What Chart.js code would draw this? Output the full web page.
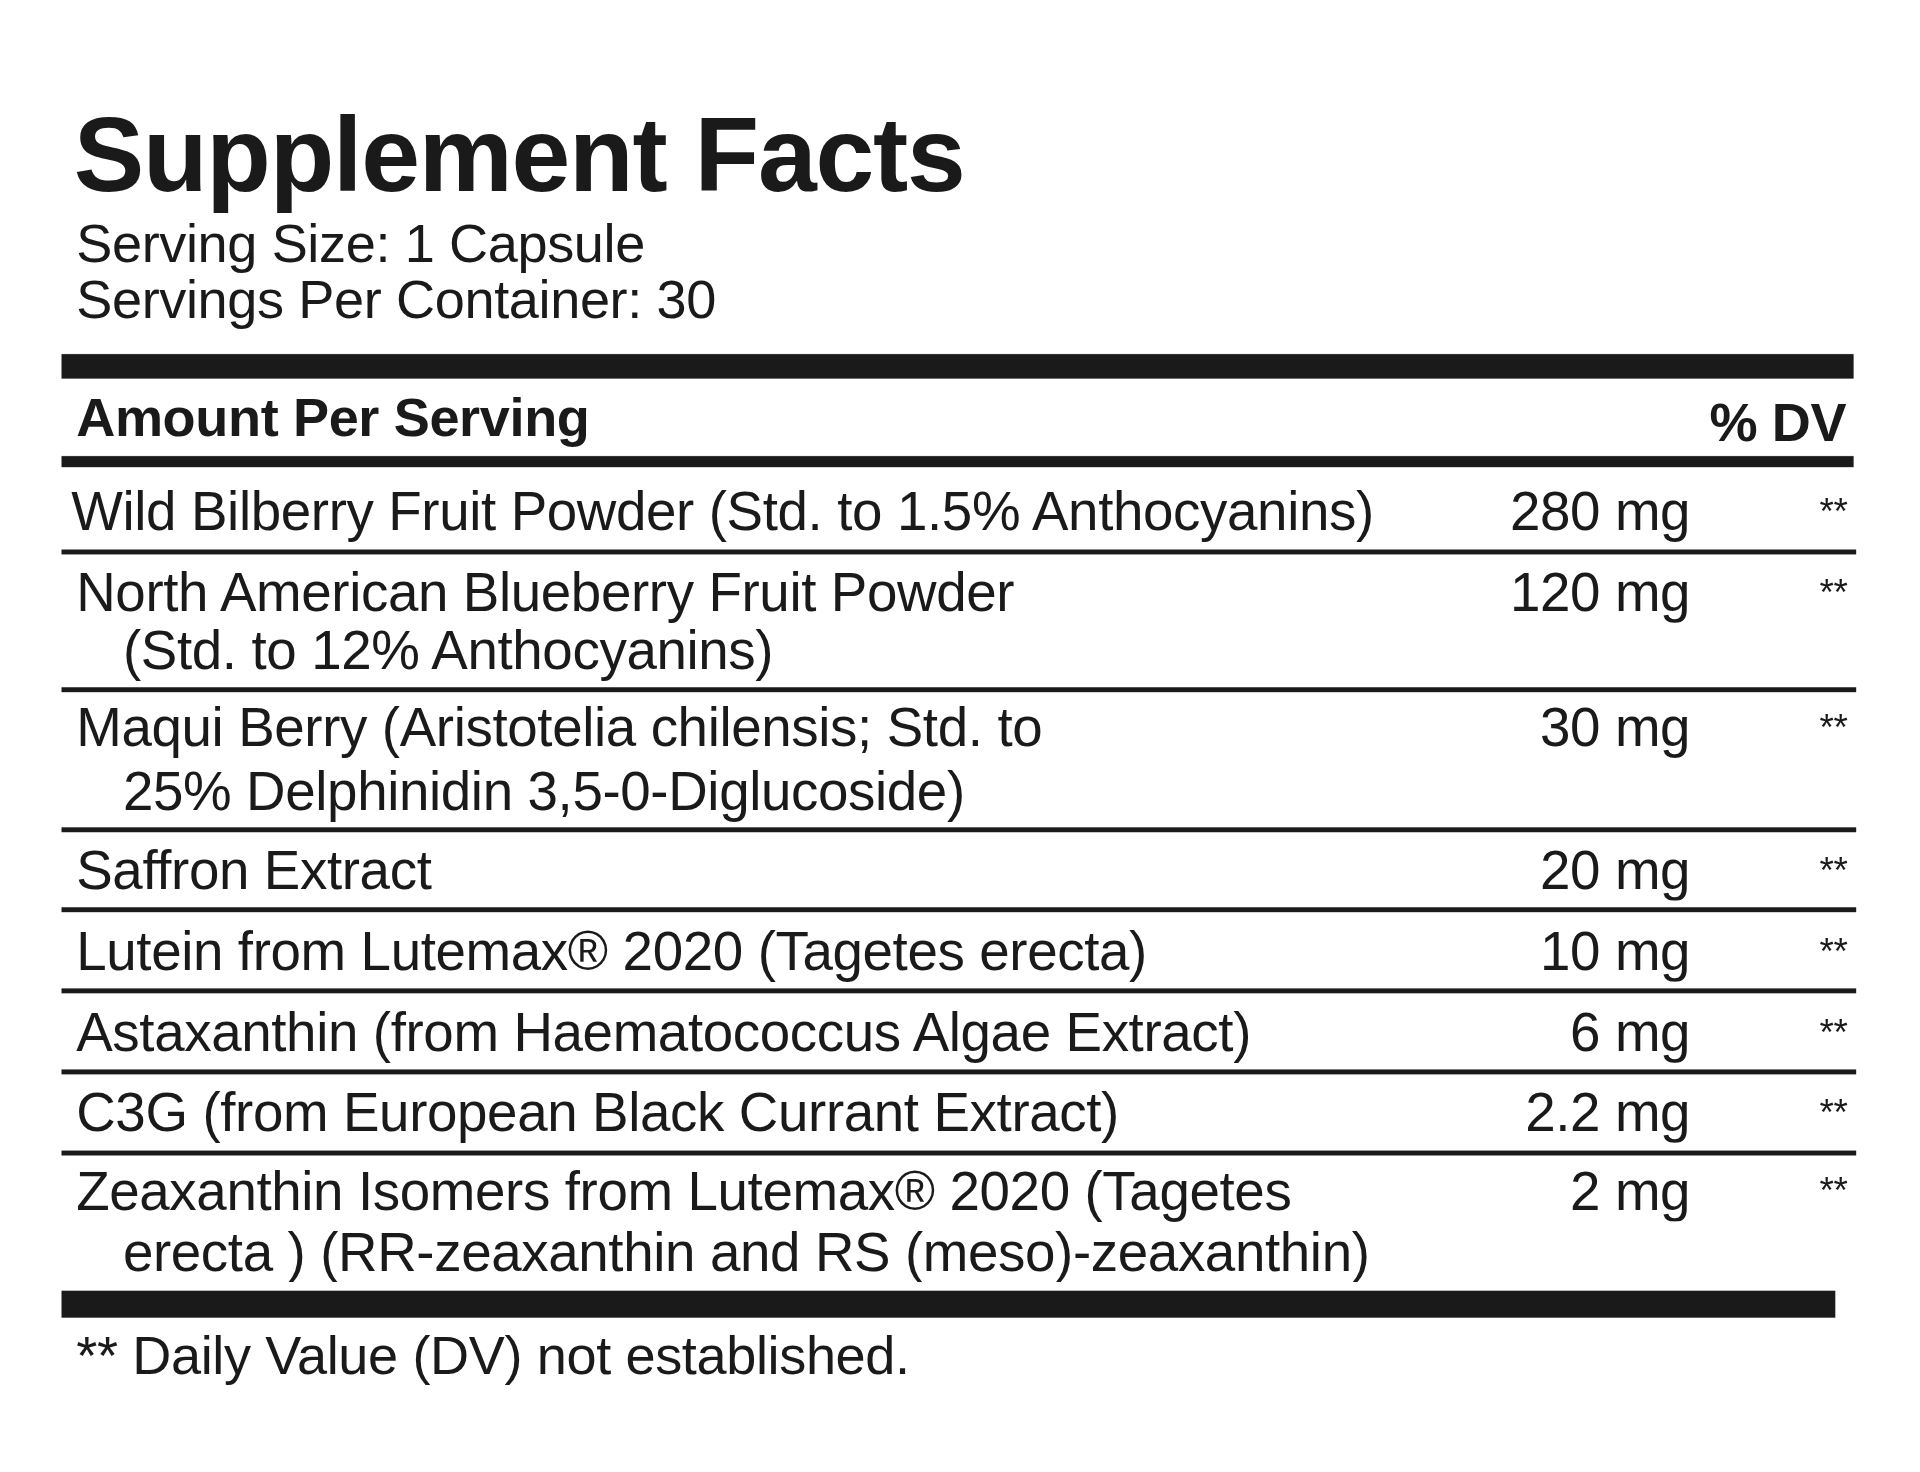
<!DOCTYPE html>
<html><head><meta charset="utf-8">
<script src="https://cdn.jsdelivr.net/npm/chart.js@4"></script>
<style>
html,body{margin:0;padding:0;background:#fff;width:1920px;height:1472px;overflow:hidden}
#wrap{position:absolute;left:0;top:0;width:1562px;height:1198px;transform:scale(1.2292);transform-origin:0 0;font-family:"Liberation Sans",Arial,sans-serif;color:#1a1a1a}
#cv{position:absolute;left:0;top:0}
.t{position:absolute;line-height:1;white-space:nowrap;letter-spacing:-0.3px}
</style></head><body>
<div id="wrap"><canvas id="cv" width="1562" height="1198"></canvas></div>
<script>
const title="Supplement Facts";
const servingInfo=["Serving Size: 1 Capsule","Servings Per Container: 30"];
const headers=["Amount Per Serving","% DV"];
const ingredients=[
 ["Wild Bilberry Fruit Powder (Std. to 1.5% Anthocyanins)"],
 ["North American Blueberry Fruit Powder","(Std. to 12% Anthocyanins)"],
 ["Maqui Berry (Aristotelia chilensis; Std. to","25% Delphinidin 3,5-0-Diglucoside)"],
 ["Saffron Extract"],
 ["Lutein from Lutemax® 2020 (Tagetes erecta)"],
 ["Astaxanthin (from Haematococcus Algae Extract)"],
 ["C3G (from European Black Currant Extract)"],
 ["Zeaxanthin Isomers from Lutemax® 2020 (Tagetes","erecta ) (RR-zeaxanthin and RS (meso)-zeaxanthin)"]
];
const amounts=["280 mg","120 mg","30 mg","20 mg","10 mg","6 mg","2.2 mg","2 mg"];
const dv=["**","**","**","**","**","**","**","**"];
const footnote="** Daily Value (DV) not established.";
// layout (reference units)
const rowBase=[[432],[498,545],[608,660],[724],[790],[856],[921],[985,1035]];
const sepY=[449,561,675,740,806,872,938];

const wrap=document.getElementById('wrap');
function txt(s,x,base,fs,opts={}){
  const d=document.createElement('div');d.className='t';d.textContent=s;
  d.style.fontSize=fs+'px';d.style.top=(base-0.8465*fs)+'px';
  if(opts.right!==undefined){d.style.right=(1562-opts.right)+'px';}else d.style.left=x+'px';
  if(opts.bold)d.style.fontWeight='bold';
  if(opts.ls!==undefined)d.style.letterSpacing=opts.ls+'px';
  wrap.appendChild(d);
}
txt(title,60,155,86,{bold:true,ls:-1});
txt(servingInfo[0],62,213,44);
txt(servingInfo[1],62,259,44);
txt(headers[0],62,355,44,{bold:true});
txt(headers[1],0,359,44,{bold:true,right:1502});
ingredients.forEach((lines,i)=>{
  lines.forEach((l,j)=>txt(l,j?100:(i===0?58:62),rowBase[i][j],44.5));
  txt(amounts[i],0,rowBase[i][0],44.5,{right:1375});
  txt(dv[i],0,rowBase[i][0]-6,30,{right:1503});
});
txt(footnote,62,1118,44);

// rules drawn through Chart.js on a scatter with hidden axes
const rules=[{y:298,w:20,x1:50,x2:1508},{y:375.5,w:9,x1:50,x2:1508}]
 .concat(sepY.map(y=>({y,w:4,x1:50,x2:1510})))
 .concat([{y:1061,w:22,x1:50,x2:1493}]);
new Chart(document.getElementById('cv'),{
 type:'scatter',
 data:{datasets:rules.map(r=>({data:[{x:r.x1,y:r.y},{x:r.x2,y:r.y}],showLine:true,borderColor:'#1a1a1a',borderWidth:r.w,pointRadius:0,borderCapStyle:'butt'}))},
 options:{responsive:false,animation:false,layout:{padding:0},
  plugins:{legend:{display:false},tooltip:{enabled:false}},
  scales:{x:{type:'linear',min:0,max:1562,display:false},y:{type:'linear',min:0,max:1198,reverse:true,display:false}}}
});
</script></body></html>
